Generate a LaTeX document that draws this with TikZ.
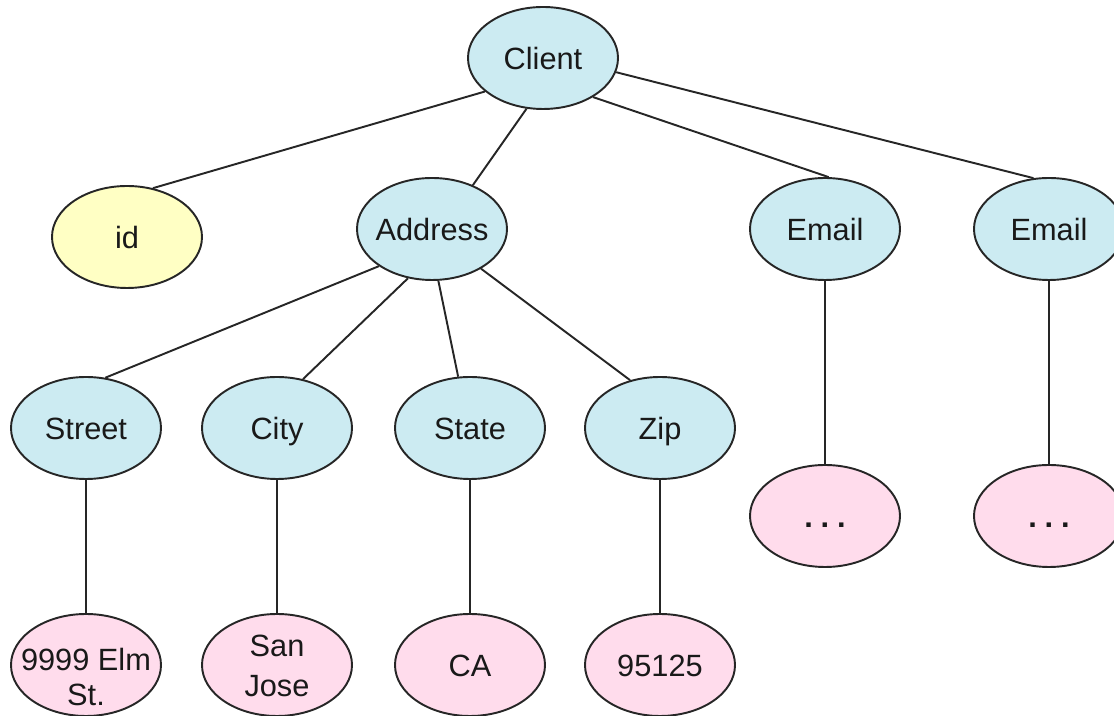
\documentclass[tikz,border=0pt]{standalone}
\usepackage{fontspec}
\setmainfont{Liberation Sans}
\usepackage{tikz}
\usetikzlibrary{positioning, shapes.geometric}
\usepackage{xcolor}

\definecolor{fieldblue}{HTML}{CCEBF2}
\definecolor{keyyellow}{HTML}{FFFFC4}
\definecolor{valuepink}{HTML}{FFDCEC}

\tikzset{
    field/.style={ellipse, draw=black!85, line width=1.1pt, fill=fieldblue,
        minimum width=3cm, minimum height=2.04cm, inner xsep=-0.5cm, inner ysep=0pt,
        align=center, text=black!90, text height=12.6pt, text depth=0pt,
        font=\fontsize{17.5}{19}\selectfont},
    keyfield/.style={field, fill=keyyellow},
    value/.style={field, fill=valuepink},
    link/.style={draw=black!85, line width=1.1pt}
}

\begin{document}
\begin{tikzpicture}
            \useasboundingbox (0,0) rectangle (22.28,14.32);
            % top level
            \node[field] (client) at (10.86,13.16) {Client};
            \node[keyfield] (id) at (2.54,9.58) {id};
            \node[field] (address) at (8.64,9.74) {Address};
            \node[field] (emailA) at (16.50,9.74) {Email};
            \node[field] (emailB) at (20.98,9.74) {Email};
            % address parts
            \node[field] (street) at (1.72,5.76) {Street};
            \node[field] (city) at (5.54,5.76) {City};
            \node[field] (state) at (9.40,5.76) {State};
            \node[field] (zip) at (13.2,5.76) {Zip};
            % values
            \node[value] (dotsA) at (16.50,4.0) {\bfseries .\hspace{4.5pt}.\hspace{4.5pt}.};
            \node[value] (dotsB) at (20.98,4.0) {\bfseries .\hspace{4.5pt}.\hspace{4.5pt}.};
            \node[value, text height=46.4pt, inner ysep=-10pt, font=\fontsize{17.5}{20}\selectfont] (streetval) at (1.72,1.02) {9999 Elm\\St.};
            \node[value, text height=36.2pt, font=\fontsize{17.5}{23}\selectfont] (cityval) at (5.54,1.02) {San\\Jose};
            \node[value] (stateval) at (9.40,1.02) {CA};
            \node[value] (zipval) at (13.2,1.02) {95125};

            % edges meet the children near their tops
            \draw[link] (client.210) -- (id.62);
            \draw[link] (client.252) -- (address.47);
            \draw[link] (client.322) -- (emailA.86);
            \draw[link] (client.349) -- (emailB.107);
            \draw[link] (address.215) -- (street.69);
            \draw[link] (address.244) -- (city.62);
            \draw[link] (address.277) -- (state.103);
            \draw[link] (address.321) -- (zip.122);
            \draw[link] (emailA) -- (dotsA);
            \draw[link] (emailB) -- (dotsB);
            \draw[link] (street) -- (streetval);
            \draw[link] (city) -- (cityval);
            \draw[link] (state) -- (stateval);
            \draw[link] (zip) -- (zipval);
\end{tikzpicture}
\end{document}
